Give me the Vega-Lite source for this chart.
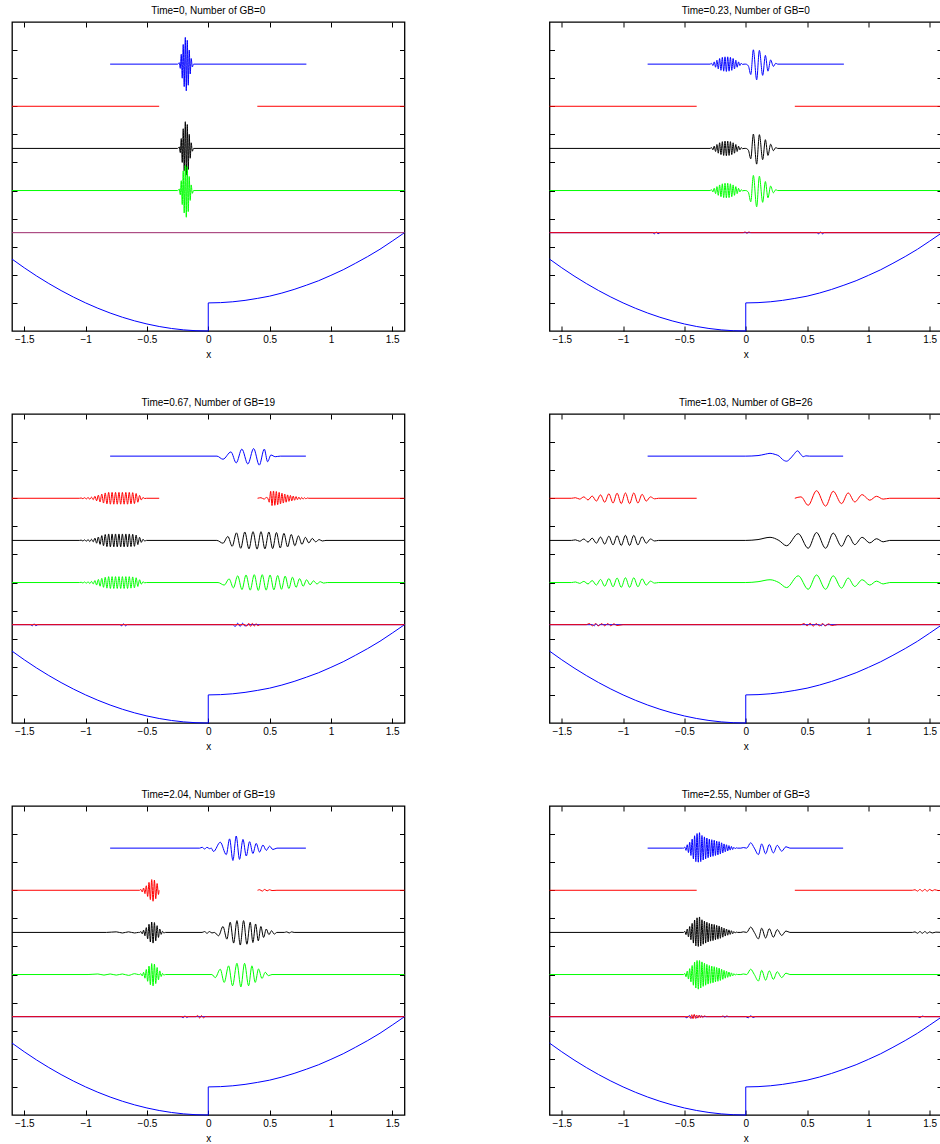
{
  "$schema": "https://vega.github.io/schema/vega-lite/v6.json",
  "padding": {"left": 9, "top": 4, "right": 0, "bottom": 0},
  "config": {
    "view": {"stroke": "#000000", "strokeWidth": 1.3},
    "axis": {"domain": false, "grid": false, "tickSize": -5, "tickColor": "#000000", "tickWidth": 1, "labelFont": "Liberation Sans", "labelFontSize": 10, "labelColor": "#000000", "labelPadding": 8, "titleFont": "Liberation Sans", "titleFontSize": 10, "titleFontWeight": "normal", "titleColor": "#000000", "titlePadding": 5},
    "title": {"font": "Liberation Sans", "fontSize": 10, "fontWeight": "normal", "color": "#000000", "offset": 6, "anchor": "middle"}
  },
  "datasets": {
    "potential": [{"x":-1.6,"y":2.56},{"x":-1.5,"y":2.25},{"x":-1.4,"y":1.96},{"x":-1.3,"y":1.69},{"x":-1.2,"y":1.44},{"x":-1.1,"y":1.21},{"x":-1.0,"y":1.0},{"x":-0.9,"y":0.81},{"x":-0.8,"y":0.64},{"x":-0.7,"y":0.49},{"x":-0.6,"y":0.36},{"x":-0.5,"y":0.25},{"x":-0.4,"y":0.16},{"x":-0.3,"y":0.09},{"x":-0.2,"y":0.04},{"x":-0.1,"y":0.01},{"x":0,"y":0},{"x":0,"y":1.0},{"x":0.1,"y":1.01},{"x":0.2,"y":1.04},{"x":0.3,"y":1.09},{"x":0.4,"y":1.16},{"x":0.5,"y":1.24},{"x":0.6,"y":1.35},{"x":0.7,"y":1.48},{"x":0.8,"y":1.63},{"x":0.9,"y":1.79},{"x":1.0,"y":1.98},{"x":1.1,"y":2.18},{"x":1.2,"y":2.41},{"x":1.3,"y":2.65},{"x":1.4,"y":2.91},{"x":1.5,"y":3.2},{"x":1.6,"y":3.5}],
    "p1": [
      {"s":"errMix","x":-1.6,"y":3.5},{"s":"errMix","x":1.6,"y":3.5},
      {"s":"blue","x":-0.8,"y":9.5},{"s":"blue","x":-0.25,"y":9.5},{"s":"blue","x":-0.236,"y":9.55},{"s":"blue","x":-0.228,"y":9.35},{"s":"blue","x":-0.22,"y":9.85},{"s":"blue","x":-0.212,"y":9.0},{"s":"blue","x":-0.204,"y":10.2},{"s":"blue","x":-0.196,"y":8.7},{"s":"blue","x":-0.187,"y":10.45},{"s":"blue","x":-0.179,"y":8.55},{"s":"blue","x":-0.171,"y":10.35},{"s":"blue","x":-0.163,"y":8.75},{"s":"blue","x":-0.155,"y":10.0},{"s":"blue","x":-0.147,"y":9.15},{"s":"blue","x":-0.139,"y":9.7},{"s":"blue","x":-0.13,"y":9.4},{"s":"blue","x":-0.12,"y":9.5},{"s":"blue","x":0.8,"y":9.5},
      {"s":"redL","x":-1.6,"y":8},{"s":"redL","x":-0.4,"y":8},{"s":"redR","x":0.4,"y":8},{"s":"redR","x":1.6,"y":8},
      {"s":"black","x":-1.6,"y":6.5},{"s":"black","x":-0.25,"y":6.5},{"s":"black","x":-0.236,"y":6.55},{"s":"black","x":-0.228,"y":6.35},{"s":"black","x":-0.22,"y":6.85},{"s":"black","x":-0.212,"y":6.0},{"s":"black","x":-0.204,"y":7.2},{"s":"black","x":-0.196,"y":5.7},{"s":"black","x":-0.187,"y":7.45},{"s":"black","x":-0.179,"y":5.55},{"s":"black","x":-0.171,"y":7.35},{"s":"black","x":-0.163,"y":5.75},{"s":"black","x":-0.155,"y":7.0},{"s":"black","x":-0.147,"y":6.15},{"s":"black","x":-0.139,"y":6.7},{"s":"black","x":-0.13,"y":6.4},{"s":"black","x":-0.12,"y":6.5},{"s":"black","x":1.6,"y":6.5},
      {"s":"green","x":-1.6,"y":5},{"s":"green","x":-0.25,"y":5},{"s":"green","x":-0.236,"y":5.05},{"s":"green","x":-0.228,"y":4.85},{"s":"green","x":-0.22,"y":5.35},{"s":"green","x":-0.212,"y":4.5},{"s":"green","x":-0.204,"y":5.7},{"s":"green","x":-0.196,"y":4.2},{"s":"green","x":-0.187,"y":5.9},{"s":"green","x":-0.179,"y":4.05},{"s":"green","x":-0.171,"y":5.85},{"s":"green","x":-0.163,"y":4.25},{"s":"green","x":-0.155,"y":5.5},{"s":"green","x":-0.147,"y":4.65},{"s":"green","x":-0.139,"y":5.2},{"s":"green","x":-0.13,"y":4.9},{"s":"green","x":-0.12,"y":5},{"s":"green","x":1.6,"y":5}
    ],
    "p2": [
      {"s":"errBlue","x":-1.6,"y":3.5},{"s":"errBlue","x":-0.76,"y":3.5},{"s":"errBlue","x":-0.745,"y":3.46},{"s":"errBlue","x":-0.73,"y":3.52},{"s":"errBlue","x":-0.715,"y":3.46},{"s":"errBlue","x":-0.7,"y":3.5},{"s":"errBlue","x":0.58,"y":3.5},{"s":"errBlue","x":0.595,"y":3.46},{"s":"errBlue","x":0.61,"y":3.52},{"s":"errBlue","x":0.625,"y":3.46},{"s":"errBlue","x":0.64,"y":3.5},{"s":"errBlue","x":1.6,"y":3.5},
      {"s":"errRed","x":-1.6,"y":3.5},{"s":"errRed","x":-0.02,"y":3.5},{"s":"errRed","x":-0.005,"y":3.53},{"s":"errRed","x":0.01,"y":3.47},{"s":"errRed","x":0.025,"y":3.53},{"s":"errRed","x":0.04,"y":3.5},{"s":"errRed","x":1.6,"y":3.5},
      {"s":"blue","x":-0.8,"y":9.5},{"s":"blue","x":-0.29,"y":9.5},{"s":"blue","x":-0.279,"y":9.53},{"s":"blue","x":-0.268,"y":9.45},{"s":"blue","x":-0.257,"y":9.58},{"s":"blue","x":-0.246,"y":9.39},{"s":"blue","x":-0.235,"y":9.64},{"s":"blue","x":-0.224,"y":9.33},{"s":"blue","x":-0.213,"y":9.7},{"s":"blue","x":-0.202,"y":9.28},{"s":"blue","x":-0.191,"y":9.74},{"s":"blue","x":-0.18,"y":9.25},{"s":"blue","x":-0.169,"y":9.76},{"s":"blue","x":-0.158,"y":9.24},{"s":"blue","x":-0.147,"y":9.76},{"s":"blue","x":-0.136,"y":9.25},{"s":"blue","x":-0.125,"y":9.74},{"s":"blue","x":-0.114,"y":9.28},{"s":"blue","x":-0.103,"y":9.7},{"s":"blue","x":-0.092,"y":9.33},{"s":"blue","x":-0.081,"y":9.64},{"s":"blue","x":-0.07,"y":9.39},{"s":"blue","x":-0.059,"y":9.58},{"s":"blue","x":-0.048,"y":9.45},{"s":"blue","x":-0.037,"y":9.53},{"s":"blue","x":-0.026,"y":9.49},{"s":"blue","x":-0.014,"y":9.5},{"s":"blue","x":0.0,"y":9.5},{"s":"blue","x":0.021,"y":9.44},{"s":"blue","x":0.041,"y":9.13},{"s":"blue","x":0.062,"y":10.01},{"s":"blue","x":0.089,"y":8.94},{"s":"blue","x":0.111,"y":9.99},{"s":"blue","x":0.138,"y":9.1},{"s":"blue","x":0.16,"y":9.81},{"s":"blue","x":0.181,"y":9.25},{"s":"blue","x":0.203,"y":9.65},{"s":"blue","x":0.225,"y":9.42},{"s":"blue","x":0.245,"y":9.53},{"s":"blue","x":0.26,"y":9.5},{"s":"blue","x":0.8,"y":9.5},
      {"s":"redL","x":-1.6,"y":8},{"s":"redL","x":-0.4,"y":8},{"s":"redR","x":0.4,"y":8},{"s":"redR","x":1.6,"y":8},
      {"s":"black","x":-1.6,"y":6.5},{"s":"black","x":-0.29,"y":6.5},{"s":"black","x":-0.279,"y":6.53},{"s":"black","x":-0.268,"y":6.45},{"s":"black","x":-0.257,"y":6.58},{"s":"black","x":-0.246,"y":6.39},{"s":"black","x":-0.235,"y":6.64},{"s":"black","x":-0.224,"y":6.33},{"s":"black","x":-0.213,"y":6.7},{"s":"black","x":-0.202,"y":6.28},{"s":"black","x":-0.191,"y":6.74},{"s":"black","x":-0.18,"y":6.25},{"s":"black","x":-0.169,"y":6.76},{"s":"black","x":-0.158,"y":6.24},{"s":"black","x":-0.147,"y":6.76},{"s":"black","x":-0.136,"y":6.25},{"s":"black","x":-0.125,"y":6.74},{"s":"black","x":-0.114,"y":6.28},{"s":"black","x":-0.103,"y":6.7},{"s":"black","x":-0.092,"y":6.33},{"s":"black","x":-0.081,"y":6.64},{"s":"black","x":-0.07,"y":6.39},{"s":"black","x":-0.059,"y":6.58},{"s":"black","x":-0.048,"y":6.45},{"s":"black","x":-0.037,"y":6.53},{"s":"black","x":-0.026,"y":6.49},{"s":"black","x":-0.014,"y":6.5},{"s":"black","x":0.0,"y":6.5},{"s":"black","x":0.021,"y":6.44},{"s":"black","x":0.041,"y":6.13},{"s":"black","x":0.062,"y":7.01},{"s":"black","x":0.089,"y":5.94},{"s":"black","x":0.111,"y":6.99},{"s":"black","x":0.138,"y":6.1},{"s":"black","x":0.16,"y":6.81},{"s":"black","x":0.181,"y":6.25},{"s":"black","x":0.203,"y":6.65},{"s":"black","x":0.225,"y":6.42},{"s":"black","x":0.245,"y":6.53},{"s":"black","x":0.26,"y":6.5},{"s":"black","x":1.6,"y":6.5},
      {"s":"green","x":-1.6,"y":5},{"s":"green","x":-0.29,"y":5},{"s":"green","x":-0.279,"y":5.03},{"s":"green","x":-0.268,"y":4.95},{"s":"green","x":-0.257,"y":5.08},{"s":"green","x":-0.246,"y":4.89},{"s":"green","x":-0.235,"y":5.14},{"s":"green","x":-0.224,"y":4.83},{"s":"green","x":-0.213,"y":5.2},{"s":"green","x":-0.202,"y":4.78},{"s":"green","x":-0.191,"y":5.24},{"s":"green","x":-0.18,"y":4.75},{"s":"green","x":-0.169,"y":5.26},{"s":"green","x":-0.158,"y":4.74},{"s":"green","x":-0.147,"y":5.26},{"s":"green","x":-0.136,"y":4.75},{"s":"green","x":-0.125,"y":5.24},{"s":"green","x":-0.114,"y":4.78},{"s":"green","x":-0.103,"y":5.2},{"s":"green","x":-0.092,"y":4.83},{"s":"green","x":-0.081,"y":5.14},{"s":"green","x":-0.07,"y":4.89},{"s":"green","x":-0.059,"y":5.08},{"s":"green","x":-0.048,"y":4.95},{"s":"green","x":-0.037,"y":5.03},{"s":"green","x":-0.026,"y":4.99},{"s":"green","x":-0.014,"y":5},{"s":"green","x":0.0,"y":5},{"s":"green","x":0.021,"y":4.94},{"s":"green","x":0.041,"y":4.6},{"s":"green","x":0.062,"y":5.54},{"s":"green","x":0.089,"y":4.42},{"s":"green","x":0.111,"y":5.51},{"s":"green","x":0.138,"y":4.58},{"s":"green","x":0.16,"y":5.32},{"s":"green","x":0.181,"y":4.74},{"s":"green","x":0.203,"y":5.16},{"s":"green","x":0.225,"y":4.92},{"s":"green","x":0.245,"y":5.03},{"s":"green","x":0.26,"y":5},{"s":"green","x":1.6,"y":5}
    ],
    "p3": [
      {"s":"errBlue","x":-1.6,"y":3.5},{"s":"errBlue","x":-1.45,"y":3.5},{"s":"errBlue","x":-1.435,"y":3.46},{"s":"errBlue","x":-1.42,"y":3.53},{"s":"errBlue","x":-1.405,"y":3.46},{"s":"errBlue","x":-1.39,"y":3.5},{"s":"errBlue","x":-0.72,"y":3.5},{"s":"errBlue","x":-0.705,"y":3.46},{"s":"errBlue","x":-0.69,"y":3.53},{"s":"errBlue","x":-0.675,"y":3.46},{"s":"errBlue","x":-0.66,"y":3.5},{"s":"errBlue","x":0.2,"y":3.5},{"s":"errBlue","x":0.22,"y":3.44},{"s":"errBlue","x":0.24,"y":3.55},{"s":"errBlue","x":0.26,"y":3.44},{"s":"errBlue","x":0.28,"y":3.55},{"s":"errBlue","x":0.3,"y":3.45},{"s":"errBlue","x":0.32,"y":3.5},{"s":"errBlue","x":1.6,"y":3.5},
      {"s":"errRed","x":-1.6,"y":3.5},{"s":"errRed","x":0.3,"y":3.5},{"s":"errRed","x":0.315,"y":3.45},{"s":"errRed","x":0.33,"y":3.55},{"s":"errRed","x":0.345,"y":3.44},{"s":"errRed","x":0.36,"y":3.55},{"s":"errRed","x":0.375,"y":3.45},{"s":"errRed","x":0.39,"y":3.54},{"s":"errRed","x":0.405,"y":3.46},{"s":"errRed","x":0.42,"y":3.5},{"s":"errRed","x":1.6,"y":3.5},
      {"s":"blue","x":-0.8,"y":9.5},{"s":"blue","x":0.071,"y":9.5},{"s":"blue","x":0.12,"y":9.39},{"s":"blue","x":0.185,"y":9.65},{"s":"blue","x":0.228,"y":9.26},{"s":"blue","x":0.274,"y":9.75},{"s":"blue","x":0.323,"y":9.22},{"s":"blue","x":0.37,"y":9.77},{"s":"blue","x":0.416,"y":9.18},{"s":"blue","x":0.457,"y":9.75},{"s":"blue","x":0.484,"y":9.3},{"s":"blue","x":0.511,"y":9.54},{"s":"blue","x":0.546,"y":9.48},{"s":"blue","x":0.587,"y":9.5},{"s":"blue","x":0.796,"y":9.5},
      {"s":"redL","x":-1.6,"y":8},{"s":"redL","x":-1.05,"y":8},{"s":"redL","x":-1.036,"y":8.01},{"s":"redL","x":-1.022,"y":7.985},{"s":"redL","x":-1.008,"y":8.02},{"s":"redL","x":-0.994,"y":7.975},{"s":"redL","x":-0.98,"y":8.03},{"s":"redL","x":-0.966,"y":7.965},{"s":"redL","x":-0.952,"y":8.04},{"s":"redL","x":-0.938,"y":7.95},{"s":"redL","x":-0.924,"y":8.07},{"s":"redL","x":-0.91,"y":7.91},{"s":"redL","x":-0.896,"y":8.11},{"s":"redL","x":-0.882,"y":7.87},{"s":"redL","x":-0.868,"y":8.15},{"s":"redL","x":-0.854,"y":7.83},{"s":"redL","x":-0.84,"y":8.19},{"s":"redL","x":-0.826,"y":7.8},{"s":"redL","x":-0.812,"y":8.21},{"s":"redL","x":-0.798,"y":7.79},{"s":"redL","x":-0.784,"y":8.21},{"s":"redL","x":-0.77,"y":7.79},{"s":"redL","x":-0.756,"y":8.21},{"s":"redL","x":-0.742,"y":7.79},{"s":"redL","x":-0.728,"y":8.21},{"s":"redL","x":-0.714,"y":7.79},{"s":"redL","x":-0.7,"y":8.21},{"s":"redL","x":-0.686,"y":7.79},{"s":"redL","x":-0.672,"y":8.21},{"s":"redL","x":-0.658,"y":7.79},{"s":"redL","x":-0.644,"y":8.21},{"s":"redL","x":-0.63,"y":7.8},{"s":"redL","x":-0.616,"y":8.2},{"s":"redL","x":-0.602,"y":7.81},{"s":"redL","x":-0.588,"y":8.17},{"s":"redL","x":-0.574,"y":7.86},{"s":"redL","x":-0.56,"y":8.1},{"s":"redL","x":-0.546,"y":7.94},{"s":"redL","x":-0.532,"y":8.03},{"s":"redL","x":-0.518,"y":7.99},{"s":"redL","x":-0.504,"y":8},{"s":"redL","x":-0.4,"y":8},
      {"s":"redR","x":0.402,"y":8},{"s":"redR","x":0.43,"y":8.02},{"s":"redR","x":0.455,"y":7.97},{"s":"redR","x":0.475,"y":8.03},{"s":"redR","x":0.486,"y":8},{"s":"redR","x":0.497,"y":7.86},{"s":"redR","x":0.509,"y":8.25},{"s":"redR","x":0.52,"y":7.74},{"s":"redR","x":0.532,"y":8.26},{"s":"redR","x":0.543,"y":7.75},{"s":"redR","x":0.555,"y":8.24},{"s":"redR","x":0.566,"y":7.77},{"s":"redR","x":0.578,"y":8.21},{"s":"redR","x":0.589,"y":7.8},{"s":"redR","x":0.601,"y":8.18},{"s":"redR","x":0.612,"y":7.83},{"s":"redR","x":0.624,"y":8.15},{"s":"redR","x":0.635,"y":7.86},{"s":"redR","x":0.647,"y":8.12},{"s":"redR","x":0.658,"y":7.89},{"s":"redR","x":0.67,"y":8.1},{"s":"redR","x":0.681,"y":7.91},{"s":"redR","x":0.693,"y":8.08},{"s":"redR","x":0.704,"y":7.93},{"s":"redR","x":0.716,"y":8.06},{"s":"redR","x":0.727,"y":7.95},{"s":"redR","x":0.739,"y":8.04},{"s":"redR","x":0.75,"y":7.96},{"s":"redR","x":0.762,"y":8.03},{"s":"redR","x":0.773,"y":7.97},{"s":"redR","x":0.785,"y":8.02},{"s":"redR","x":0.796,"y":7.98},{"s":"redR","x":0.808,"y":8.01},{"s":"redR","x":0.82,"y":8},{"s":"redR","x":1.6,"y":8},
      {"s":"black","x":-1.6,"y":6.5},{"s":"black","x":-1.05,"y":6.5},{"s":"black","x":-1.036,"y":6.51},{"s":"black","x":-1.022,"y":6.48},{"s":"black","x":-1.008,"y":6.52},{"s":"black","x":-0.994,"y":6.47},{"s":"black","x":-0.98,"y":6.53},{"s":"black","x":-0.966,"y":6.46},{"s":"black","x":-0.952,"y":6.54},{"s":"black","x":-0.938,"y":6.45},{"s":"black","x":-0.924,"y":6.58},{"s":"black","x":-0.91,"y":6.4},{"s":"black","x":-0.896,"y":6.62},{"s":"black","x":-0.882,"y":6.36},{"s":"black","x":-0.868,"y":6.67},{"s":"black","x":-0.854,"y":6.31},{"s":"black","x":-0.84,"y":6.71},{"s":"black","x":-0.826,"y":6.28},{"s":"black","x":-0.812,"y":6.73},{"s":"black","x":-0.798,"y":6.27},{"s":"black","x":-0.784,"y":6.73},{"s":"black","x":-0.77,"y":6.27},{"s":"black","x":-0.756,"y":6.73},{"s":"black","x":-0.742,"y":6.27},{"s":"black","x":-0.728,"y":6.73},{"s":"black","x":-0.714,"y":6.27},{"s":"black","x":-0.7,"y":6.73},{"s":"black","x":-0.686,"y":6.27},{"s":"black","x":-0.672,"y":6.73},{"s":"black","x":-0.658,"y":6.27},{"s":"black","x":-0.644,"y":6.73},{"s":"black","x":-0.63,"y":6.28},{"s":"black","x":-0.616,"y":6.72},{"s":"black","x":-0.602,"y":6.29},{"s":"black","x":-0.588,"y":6.69},{"s":"black","x":-0.574,"y":6.35},{"s":"black","x":-0.56,"y":6.61},{"s":"black","x":-0.546,"y":6.43},{"s":"black","x":-0.532,"y":6.54},{"s":"black","x":-0.518,"y":6.48},{"s":"black","x":-0.504,"y":6.5},{"s":"black","x":0.07,"y":6.5},{"s":"black","x":0.12,"y":6.4},{"s":"black","x":0.16,"y":6.64},{"s":"black","x":0.195,"y":6.29},{"s":"black","x":0.23,"y":6.77},{"s":"black","x":0.265,"y":6.22},{"s":"black","x":0.298,"y":6.8},{"s":"black","x":0.332,"y":6.2},{"s":"black","x":0.365,"y":6.81},{"s":"black","x":0.398,"y":6.19},{"s":"black","x":0.43,"y":6.81},{"s":"black","x":0.462,"y":6.2},{"s":"black","x":0.494,"y":6.8},{"s":"black","x":0.525,"y":6.21},{"s":"black","x":0.556,"y":6.78},{"s":"black","x":0.587,"y":6.23},{"s":"black","x":0.617,"y":6.75},{"s":"black","x":0.647,"y":6.27},{"s":"black","x":0.677,"y":6.71},{"s":"black","x":0.706,"y":6.31},{"s":"black","x":0.735,"y":6.66},{"s":"black","x":0.764,"y":6.36},{"s":"black","x":0.792,"y":6.61},{"s":"black","x":0.82,"y":6.41},{"s":"black","x":0.848,"y":6.57},{"s":"black","x":0.876,"y":6.45},{"s":"black","x":0.904,"y":6.53},{"s":"black","x":0.93,"y":6.48},{"s":"black","x":0.96,"y":6.5},{"s":"black","x":1.6,"y":6.5},
      {"s":"green","x":-1.6,"y":5},{"s":"green","x":-1.05,"y":5},{"s":"green","x":-1.036,"y":5.01},{"s":"green","x":-1.022,"y":4.985},{"s":"green","x":-1.008,"y":5.02},{"s":"green","x":-0.994,"y":4.975},{"s":"green","x":-0.98,"y":5.03},{"s":"green","x":-0.966,"y":4.965},{"s":"green","x":-0.952,"y":5.04},{"s":"green","x":-0.938,"y":4.95},{"s":"green","x":-0.924,"y":5.07},{"s":"green","x":-0.91,"y":4.91},{"s":"green","x":-0.896,"y":5.11},{"s":"green","x":-0.882,"y":4.87},{"s":"green","x":-0.868,"y":5.15},{"s":"green","x":-0.854,"y":4.83},{"s":"green","x":-0.84,"y":5.19},{"s":"green","x":-0.826,"y":4.8},{"s":"green","x":-0.812,"y":5.21},{"s":"green","x":-0.798,"y":4.79},{"s":"green","x":-0.784,"y":5.21},{"s":"green","x":-0.77,"y":4.79},{"s":"green","x":-0.756,"y":5.21},{"s":"green","x":-0.742,"y":4.79},{"s":"green","x":-0.728,"y":5.21},{"s":"green","x":-0.714,"y":4.79},{"s":"green","x":-0.7,"y":5.21},{"s":"green","x":-0.686,"y":4.79},{"s":"green","x":-0.672,"y":5.21},{"s":"green","x":-0.658,"y":4.79},{"s":"green","x":-0.644,"y":5.21},{"s":"green","x":-0.63,"y":4.8},{"s":"green","x":-0.616,"y":5.2},{"s":"green","x":-0.602,"y":4.81},{"s":"green","x":-0.588,"y":5.17},{"s":"green","x":-0.574,"y":4.86},{"s":"green","x":-0.56,"y":5.1},{"s":"green","x":-0.546,"y":4.94},{"s":"green","x":-0.532,"y":5.03},{"s":"green","x":-0.518,"y":4.99},{"s":"green","x":-0.504,"y":5},{"s":"green","x":0.08,"y":5},{"s":"green","x":0.13,"y":4.91},{"s":"green","x":0.17,"y":5.13},{"s":"green","x":0.205,"y":4.81},{"s":"green","x":0.24,"y":5.24},{"s":"green","x":0.275,"y":4.75},{"s":"green","x":0.308,"y":5.27},{"s":"green","x":0.342,"y":4.73},{"s":"green","x":0.375,"y":5.28},{"s":"green","x":0.408,"y":4.72},{"s":"green","x":0.44,"y":5.28},{"s":"green","x":0.472,"y":4.73},{"s":"green","x":0.504,"y":5.27},{"s":"green","x":0.535,"y":4.74},{"s":"green","x":0.566,"y":5.25},{"s":"green","x":0.597,"y":4.76},{"s":"green","x":0.627,"y":5.23},{"s":"green","x":0.657,"y":4.79},{"s":"green","x":0.687,"y":5.19},{"s":"green","x":0.716,"y":4.83},{"s":"green","x":0.745,"y":5.14},{"s":"green","x":0.774,"y":4.87},{"s":"green","x":0.802,"y":5.1},{"s":"green","x":0.83,"y":4.92},{"s":"green","x":0.858,"y":5.06},{"s":"green","x":0.886,"y":4.95},{"s":"green","x":0.914,"y":5.03},{"s":"green","x":0.94,"y":4.98},{"s":"green","x":0.97,"y":5},{"s":"green","x":1.6,"y":5}
    ],
    "p4": [
      {"s":"errBlue","x":-1.6,"y":3.5},{"s":"errBlue","x":-1.25,"y":3.5},{"s":"errBlue","x":-1.235,"y":3.46},{"s":"errBlue","x":-1.22,"y":3.53},{"s":"errBlue","x":-1.205,"y":3.46},{"s":"errBlue","x":-1.19,"y":3.5},{"s":"errBlue","x":0.6,"y":3.5},{"s":"errBlue","x":0.615,"y":3.46},{"s":"errBlue","x":0.63,"y":3.53},{"s":"errBlue","x":0.645,"y":3.46},{"s":"errBlue","x":0.66,"y":3.5},{"s":"errBlue","x":1.6,"y":3.5},
      {"s":"errRed","x":-1.6,"y":3.5},{"s":"errRed","x":-1.3,"y":3.5},{"s":"errRed","x":-1.275,"y":3.54},{"s":"errRed","x":-1.25,"y":3.46},{"s":"errRed","x":-1.225,"y":3.54},{"s":"errRed","x":-1.2,"y":3.46},{"s":"errRed","x":-1.175,"y":3.54},{"s":"errRed","x":-1.15,"y":3.46},{"s":"errRed","x":-1.125,"y":3.54},{"s":"errRed","x":-1.1,"y":3.46},{"s":"errRed","x":-1.075,"y":3.53},{"s":"errRed","x":-1.05,"y":3.47},{"s":"errRed","x":-1.0,"y":3.5},{"s":"errRed","x":0.45,"y":3.5},{"s":"errRed","x":0.475,"y":3.54},{"s":"errRed","x":0.5,"y":3.46},{"s":"errRed","x":0.525,"y":3.55},{"s":"errRed","x":0.55,"y":3.45},{"s":"errRed","x":0.575,"y":3.54},{"s":"errRed","x":0.6,"y":3.46},{"s":"errRed","x":0.625,"y":3.54},{"s":"errRed","x":0.65,"y":3.46},{"s":"errRed","x":0.675,"y":3.53},{"s":"errRed","x":0.7,"y":3.47},{"s":"errRed","x":0.75,"y":3.5},{"s":"errRed","x":1.6,"y":3.5},
      {"s":"blue","x":-0.8,"y":9.5},{"s":"blue","x":0,"y":9.5},{"s":"blue","x":0.1,"y":9.52},{"s":"blue","x":0.16,"y":9.57},{"s":"blue","x":0.198,"y":9.6},{"s":"blue","x":0.24,"y":9.56},{"s":"blue","x":0.273,"y":9.5},{"s":"blue","x":0.3,"y":9.38},{"s":"blue","x":0.333,"y":9.32},{"s":"blue","x":0.36,"y":9.4},{"s":"blue","x":0.39,"y":9.55},{"s":"blue","x":0.423,"y":9.69},{"s":"blue","x":0.445,"y":9.58},{"s":"blue","x":0.469,"y":9.48},{"s":"blue","x":0.49,"y":9.51},{"s":"blue","x":0.52,"y":9.5},{"s":"blue","x":0.794,"y":9.5},
      {"s":"redL","x":-1.6,"y":8},{"s":"redL","x":-1.421,"y":8},{"s":"redL","x":-1.388,"y":8.02},{"s":"redL","x":-1.354,"y":7.97},{"s":"redL","x":-1.32,"y":8.05},{"s":"redL","x":-1.286,"y":7.94},{"s":"redL","x":-1.252,"y":8.08},{"s":"redL","x":-1.218,"y":7.9},{"s":"redL","x":-1.184,"y":8.12},{"s":"redL","x":-1.15,"y":7.86},{"s":"redL","x":-1.116,"y":8.16},{"s":"redL","x":-1.082,"y":7.83},{"s":"redL","x":-1.049,"y":8.18},{"s":"redL","x":-1.015,"y":7.81},{"s":"redL","x":-0.981,"y":8.19},{"s":"redL","x":-0.947,"y":7.81},{"s":"redL","x":-0.913,"y":8.19},{"s":"redL","x":-0.879,"y":7.83},{"s":"redL","x":-0.845,"y":8.14},{"s":"redL","x":-0.811,"y":7.9},{"s":"redL","x":-0.777,"y":8.05},{"s":"redL","x":-0.743,"y":7.98},{"s":"redL","x":-0.711,"y":8},{"s":"redL","x":-0.4,"y":8},
      {"s":"redR","x":0.4,"y":8},{"s":"redR","x":0.45,"y":8.05},{"s":"redR","x":0.509,"y":7.75},{"s":"redR","x":0.577,"y":8.27},{"s":"redR","x":0.651,"y":7.72},{"s":"redR","x":0.713,"y":8.25},{"s":"redR","x":0.781,"y":7.81},{"s":"redR","x":0.835,"y":8.19},{"s":"redR","x":0.889,"y":7.87},{"s":"redR","x":0.949,"y":8.13},{"s":"redR","x":1.011,"y":7.93},{"s":"redR","x":1.066,"y":8.07},{"s":"redR","x":1.12,"y":7.97},{"s":"redR","x":1.174,"y":8},{"s":"redR","x":1.6,"y":8},
      {"s":"black","x":-1.6,"y":6.5},{"s":"black","x":-1.421,"y":6.5},{"s":"black","x":-1.388,"y":6.52},{"s":"black","x":-1.354,"y":6.47},{"s":"black","x":-1.32,"y":6.55},{"s":"black","x":-1.286,"y":6.44},{"s":"black","x":-1.252,"y":6.58},{"s":"black","x":-1.218,"y":6.4},{"s":"black","x":-1.184,"y":6.62},{"s":"black","x":-1.15,"y":6.37},{"s":"black","x":-1.116,"y":6.65},{"s":"black","x":-1.082,"y":6.34},{"s":"black","x":-1.049,"y":6.67},{"s":"black","x":-1.015,"y":6.32},{"s":"black","x":-0.981,"y":6.68},{"s":"black","x":-0.947,"y":6.32},{"s":"black","x":-0.913,"y":6.68},{"s":"black","x":-0.879,"y":6.34},{"s":"black","x":-0.845,"y":6.63},{"s":"black","x":-0.811,"y":6.4},{"s":"black","x":-0.777,"y":6.55},{"s":"black","x":-0.743,"y":6.48},{"s":"black","x":-0.711,"y":6.5},{"s":"black","x":0,"y":6.5},{"s":"black","x":0.1,"y":6.53},{"s":"black","x":0.198,"y":6.61},{"s":"black","x":0.27,"y":6.5},{"s":"black","x":0.333,"y":6.31},{"s":"black","x":0.428,"y":6.74},{"s":"black","x":0.509,"y":6.22},{"s":"black","x":0.577,"y":6.78},{"s":"black","x":0.651,"y":6.22},{"s":"black","x":0.713,"y":6.76},{"s":"black","x":0.781,"y":6.29},{"s":"black","x":0.835,"y":6.68},{"s":"black","x":0.889,"y":6.35},{"s":"black","x":0.949,"y":6.61},{"s":"black","x":1.011,"y":6.41},{"s":"black","x":1.066,"y":6.56},{"s":"black","x":1.12,"y":6.45},{"s":"black","x":1.174,"y":6.5},{"s":"black","x":1.6,"y":6.5},
      {"s":"green","x":-1.6,"y":5},{"s":"green","x":-1.421,"y":5},{"s":"green","x":-1.388,"y":5.02},{"s":"green","x":-1.354,"y":4.97},{"s":"green","x":-1.32,"y":5.04},{"s":"green","x":-1.286,"y":4.95},{"s":"green","x":-1.252,"y":5.07},{"s":"green","x":-1.218,"y":4.91},{"s":"green","x":-1.184,"y":5.11},{"s":"green","x":-1.15,"y":4.87},{"s":"green","x":-1.116,"y":5.14},{"s":"green","x":-1.082,"y":4.85},{"s":"green","x":-1.049,"y":5.16},{"s":"green","x":-1.015,"y":4.83},{"s":"green","x":-0.981,"y":5.17},{"s":"green","x":-0.947,"y":4.83},{"s":"green","x":-0.913,"y":5.17},{"s":"green","x":-0.879,"y":4.85},{"s":"green","x":-0.845,"y":5.13},{"s":"green","x":-0.811,"y":4.91},{"s":"green","x":-0.777,"y":5.05},{"s":"green","x":-0.743,"y":4.98},{"s":"green","x":-0.711,"y":5},{"s":"green","x":0,"y":5},{"s":"green","x":0.1,"y":5.03},{"s":"green","x":0.198,"y":5.1},{"s":"green","x":0.27,"y":5},{"s":"green","x":0.333,"y":4.82},{"s":"green","x":0.428,"y":5.24},{"s":"green","x":0.509,"y":4.76},{"s":"green","x":0.577,"y":5.27},{"s":"green","x":0.651,"y":4.76},{"s":"green","x":0.713,"y":5.24},{"s":"green","x":0.781,"y":4.8},{"s":"green","x":0.835,"y":5.16},{"s":"green","x":0.889,"y":4.86},{"s":"green","x":0.949,"y":5.1},{"s":"green","x":1.011,"y":4.91},{"s":"green","x":1.066,"y":5.05},{"s":"green","x":1.12,"y":4.95},{"s":"green","x":1.174,"y":5},{"s":"green","x":1.6,"y":5}
    ],
    "p5": [
      {"s":"errBlue","x":-1.6,"y":3.5},{"s":"errBlue","x":-0.22,"y":3.5},{"s":"errBlue","x":-0.205,"y":3.46},{"s":"errBlue","x":-0.19,"y":3.53},{"s":"errBlue","x":-0.175,"y":3.47},{"s":"errBlue","x":-0.16,"y":3.5},{"s":"errBlue","x":1.6,"y":3.5},
      {"s":"errRed","x":-1.6,"y":3.5},{"s":"errRed","x":-0.1,"y":3.5},{"s":"errRed","x":-0.085,"y":3.54},{"s":"errRed","x":-0.07,"y":3.45},{"s":"errRed","x":-0.055,"y":3.54},{"s":"errRed","x":-0.04,"y":3.46},{"s":"errRed","x":-0.025,"y":3.5},{"s":"errRed","x":1.6,"y":3.5},
      {"s":"blue","x":-0.8,"y":9.5},{"s":"blue","x":-0.07,"y":9.5},{"s":"blue","x":-0.05,"y":9.53},{"s":"blue","x":-0.03,"y":9.47},{"s":"blue","x":-0.01,"y":9.53},{"s":"blue","x":0.01,"y":9.48},{"s":"blue","x":0.025,"y":9.5},{"s":"blue","x":0.043,"y":9.38},{"s":"blue","x":0.098,"y":9.71},{"s":"blue","x":0.147,"y":9.27},{"s":"blue","x":0.174,"y":9.83},{"s":"blue","x":0.201,"y":9.06},{"s":"blue","x":0.228,"y":9.93},{"s":"blue","x":0.255,"y":9.1},{"s":"blue","x":0.283,"y":9.81},{"s":"blue","x":0.31,"y":9.22},{"s":"blue","x":0.337,"y":9.73},{"s":"blue","x":0.364,"y":9.31},{"s":"blue","x":0.391,"y":9.67},{"s":"blue","x":0.418,"y":9.36},{"s":"blue","x":0.446,"y":9.61},{"s":"blue","x":0.473,"y":9.42},{"s":"blue","x":0.5,"y":9.57},{"s":"blue","x":0.527,"y":9.45},{"s":"blue","x":0.56,"y":9.5},{"s":"blue","x":0.796,"y":9.5},
      {"s":"redL","x":-1.6,"y":8},{"s":"redL","x":-0.56,"y":8},{"s":"redL","x":-0.549,"y":8.03},{"s":"redL","x":-0.538,"y":7.94},{"s":"redL","x":-0.527,"y":8.08},{"s":"redL","x":-0.516,"y":7.88},{"s":"redL","x":-0.505,"y":8.16},{"s":"redL","x":-0.494,"y":7.78},{"s":"redL","x":-0.483,"y":8.28},{"s":"redL","x":-0.472,"y":7.67},{"s":"redL","x":-0.461,"y":8.38},{"s":"redL","x":-0.45,"y":7.61},{"s":"redL","x":-0.439,"y":8.36},{"s":"redL","x":-0.428,"y":7.7},{"s":"redL","x":-0.417,"y":8.24},{"s":"redL","x":-0.406,"y":7.85},{"s":"redL","x":-0.401,"y":8},
      {"s":"redR","x":0.402,"y":8},{"s":"redR","x":0.42,"y":8.02},{"s":"redR","x":0.44,"y":7.97},{"s":"redR","x":0.46,"y":8.03},{"s":"redR","x":0.48,"y":7.98},{"s":"redR","x":0.5,"y":8.02},{"s":"redR","x":0.52,"y":7.99},{"s":"redR","x":0.56,"y":8},{"s":"redR","x":1.6,"y":8},
      {"s":"black","x":-1.6,"y":6.5},{"s":"black","x":-0.83,"y":6.5},{"s":"black","x":-0.75,"y":6.52},{"s":"black","x":-0.7,"y":6.48},{"s":"black","x":-0.65,"y":6.52},{"s":"black","x":-0.6,"y":6.48},{"s":"black","x":-0.57,"y":6.5},{"s":"black","x":-0.56,"y":6.5},{"s":"black","x":-0.549,"y":6.53},{"s":"black","x":-0.538,"y":6.45},{"s":"black","x":-0.527,"y":6.58},{"s":"black","x":-0.516,"y":6.38},{"s":"black","x":-0.505,"y":6.67},{"s":"black","x":-0.494,"y":6.27},{"s":"black","x":-0.483,"y":6.79},{"s":"black","x":-0.472,"y":6.16},{"s":"black","x":-0.461,"y":6.87},{"s":"black","x":-0.45,"y":6.12},{"s":"black","x":-0.439,"y":6.85},{"s":"black","x":-0.428,"y":6.2},{"s":"black","x":-0.417,"y":6.74},{"s":"black","x":-0.406,"y":6.32},{"s":"black","x":-0.395,"y":6.62},{"s":"black","x":-0.384,"y":6.43},{"s":"black","x":-0.373,"y":6.54},{"s":"black","x":-0.362,"y":6.48},{"s":"black","x":-0.35,"y":6.5},{"s":"black","x":-0.05,"y":6.5},{"s":"black","x":-0.03,"y":6.53},{"s":"black","x":-0.01,"y":6.47},{"s":"black","x":0.01,"y":6.53},{"s":"black","x":0.03,"y":6.48},{"s":"black","x":0.05,"y":6.5},{"s":"black","x":0.084,"y":6.38},{"s":"black","x":0.12,"y":6.71},{"s":"black","x":0.152,"y":6.26},{"s":"black","x":0.179,"y":6.86},{"s":"black","x":0.207,"y":6.12},{"s":"black","x":0.234,"y":6.92},{"s":"black","x":0.261,"y":6.05},{"s":"black","x":0.288,"y":6.92},{"s":"black","x":0.315,"y":6.08},{"s":"black","x":0.342,"y":6.86},{"s":"black","x":0.364,"y":6.14},{"s":"black","x":0.386,"y":6.8},{"s":"black","x":0.408,"y":6.2},{"s":"black","x":0.429,"y":6.71},{"s":"black","x":0.451,"y":6.32},{"s":"black","x":0.473,"y":6.62},{"s":"black","x":0.495,"y":6.42},{"s":"black","x":0.516,"y":6.56},{"s":"black","x":0.538,"y":6.44},{"s":"black","x":0.56,"y":6.5},{"s":"black","x":0.62,"y":6.5},{"s":"black","x":0.64,"y":6.52},{"s":"black","x":0.66,"y":6.48},{"s":"black","x":0.68,"y":6.52},{"s":"black","x":0.7,"y":6.5},{"s":"black","x":1.6,"y":6.5},
      {"s":"green","x":-1.6,"y":5},{"s":"green","x":-0.98,"y":5},{"s":"green","x":-0.9,"y":5.02},{"s":"green","x":-0.85,"y":4.98},{"s":"green","x":-0.8,"y":5.02},{"s":"green","x":-0.75,"y":4.98},{"s":"green","x":-0.7,"y":5.02},{"s":"green","x":-0.65,"y":4.97},{"s":"green","x":-0.6,"y":5.03},{"s":"green","x":-0.57,"y":5},{"s":"green","x":-0.56,"y":5},{"s":"green","x":-0.549,"y":5.03},{"s":"green","x":-0.538,"y":4.95},{"s":"green","x":-0.527,"y":5.08},{"s":"green","x":-0.516,"y":4.87},{"s":"green","x":-0.505,"y":5.18},{"s":"green","x":-0.494,"y":4.76},{"s":"green","x":-0.483,"y":5.3},{"s":"green","x":-0.472,"y":4.64},{"s":"green","x":-0.461,"y":5.39},{"s":"green","x":-0.45,"y":4.6},{"s":"green","x":-0.439,"y":5.37},{"s":"green","x":-0.428,"y":4.68},{"s":"green","x":-0.417,"y":5.25},{"s":"green","x":-0.406,"y":4.81},{"s":"green","x":-0.395,"y":5.13},{"s":"green","x":-0.384,"y":4.93},{"s":"green","x":-0.373,"y":5.04},{"s":"green","x":-0.362,"y":4.98},{"s":"green","x":-0.35,"y":5},{"s":"green","x":0.03,"y":5},{"s":"green","x":0.057,"y":4.89},{"s":"green","x":0.098,"y":5.19},{"s":"green","x":0.13,"y":4.72},{"s":"green","x":0.166,"y":5.31},{"s":"green","x":0.198,"y":4.6},{"s":"green","x":0.234,"y":5.4},{"s":"green","x":0.266,"y":4.56},{"s":"green","x":0.296,"y":5.4},{"s":"green","x":0.329,"y":4.6},{"s":"green","x":0.356,"y":5.31},{"s":"green","x":0.383,"y":4.72},{"s":"green","x":0.41,"y":5.2},{"s":"green","x":0.438,"y":4.86},{"s":"green","x":0.465,"y":5.08},{"s":"green","x":0.49,"y":4.96},{"s":"green","x":0.52,"y":5},{"s":"green","x":1.6,"y":5}
    ],
    "p6": [
      {"s":"errBlue","x":-1.6,"y":3.5},{"s":"errBlue","x":-0.5,"y":3.5},{"s":"errBlue","x":-0.48,"y":3.46},{"s":"errBlue","x":-0.46,"y":3.54},{"s":"errBlue","x":-0.44,"y":3.45},{"s":"errBlue","x":-0.42,"y":3.55},{"s":"errBlue","x":-0.4,"y":3.46},{"s":"errBlue","x":-0.38,"y":3.53},{"s":"errBlue","x":-0.36,"y":3.5},{"s":"errBlue","x":0.0,"y":3.5},{"s":"errBlue","x":0.02,"y":3.46},{"s":"errBlue","x":0.04,"y":3.53},{"s":"errBlue","x":0.06,"y":3.47},{"s":"errBlue","x":0.08,"y":3.5},{"s":"errBlue","x":1.4,"y":3.5},{"s":"errBlue","x":1.42,"y":3.47},{"s":"errBlue","x":1.44,"y":3.52},{"s":"errBlue","x":1.46,"y":3.5},{"s":"errBlue","x":1.6,"y":3.5},
      {"s":"errRed","x":-1.6,"y":3.5},{"s":"errRed","x":-0.46,"y":3.5},{"s":"errRed","x":-0.45,"y":3.44},{"s":"errRed","x":-0.44,"y":3.57},{"s":"errRed","x":-0.43,"y":3.43},{"s":"errRed","x":-0.42,"y":3.58},{"s":"errRed","x":-0.41,"y":3.44},{"s":"errRed","x":-0.4,"y":3.56},{"s":"errRed","x":-0.39,"y":3.45},{"s":"errRed","x":-0.38,"y":3.55},{"s":"errRed","x":-0.37,"y":3.46},{"s":"errRed","x":-0.36,"y":3.54},{"s":"errRed","x":-0.35,"y":3.47},{"s":"errRed","x":-0.34,"y":3.53},{"s":"errRed","x":-0.32,"y":3.5},{"s":"errRed","x":-0.2,"y":3.5},{"s":"errRed","x":-0.185,"y":3.53},{"s":"errRed","x":-0.17,"y":3.47},{"s":"errRed","x":-0.155,"y":3.53},{"s":"errRed","x":-0.14,"y":3.5},{"s":"errRed","x":1.6,"y":3.5},
      {"s":"blue","x":-0.8,"y":9.5},{"s":"blue","x":-0.517,"y":9.5},{"s":"blue","x":-0.507,"y":9.5},{"s":"blue","x":-0.497,"y":9.54},{"s":"blue","x":-0.487,"y":9.42},{"s":"blue","x":-0.477,"y":9.62},{"s":"blue","x":-0.467,"y":9.34},{"s":"blue","x":-0.457,"y":9.71},{"s":"blue","x":-0.447,"y":9.24},{"s":"blue","x":-0.437,"y":9.82},{"s":"blue","x":-0.427,"y":9.12},{"s":"blue","x":-0.417,"y":9.94},{"s":"blue","x":-0.407,"y":9.02},{"s":"blue","x":-0.397,"y":10.02},{"s":"blue","x":-0.387,"y":9.0},{"s":"blue","x":-0.377,"y":10.05},{"s":"blue","x":-0.367,"y":9.02},{"s":"blue","x":-0.357,"y":9.95},{"s":"blue","x":-0.347,"y":9.08},{"s":"blue","x":-0.337,"y":9.9},{"s":"blue","x":-0.327,"y":9.12},{"s":"blue","x":-0.317,"y":9.86},{"s":"blue","x":-0.307,"y":9.16},{"s":"blue","x":-0.297,"y":9.82},{"s":"blue","x":-0.287,"y":9.19},{"s":"blue","x":-0.277,"y":9.8},{"s":"blue","x":-0.267,"y":9.21},{"s":"blue","x":-0.257,"y":9.78},{"s":"blue","x":-0.247,"y":9.24},{"s":"blue","x":-0.237,"y":9.75},{"s":"blue","x":-0.227,"y":9.26},{"s":"blue","x":-0.217,"y":9.73},{"s":"blue","x":-0.207,"y":9.29},{"s":"blue","x":-0.197,"y":9.69},{"s":"blue","x":-0.187,"y":9.33},{"s":"blue","x":-0.177,"y":9.65},{"s":"blue","x":-0.167,"y":9.37},{"s":"blue","x":-0.157,"y":9.62},{"s":"blue","x":-0.147,"y":9.4},{"s":"blue","x":-0.137,"y":9.59},{"s":"blue","x":-0.127,"y":9.43},{"s":"blue","x":-0.117,"y":9.56},{"s":"blue","x":-0.107,"y":9.45},{"s":"blue","x":-0.097,"y":9.53},{"s":"blue","x":-0.087,"y":9.48},{"s":"blue","x":-0.077,"y":9.51},{"s":"blue","x":-0.067,"y":9.5},{"s":"blue","x":-0.04,"y":9.5},{"s":"blue","x":-0.02,"y":9.52},{"s":"blue","x":0.008,"y":9.5},{"s":"blue","x":0.04,"y":9.69},{"s":"blue","x":0.07,"y":9.5},{"s":"blue","x":0.103,"y":9.27},{"s":"blue","x":0.13,"y":9.65},{"s":"blue","x":0.162,"y":9.3},{"s":"blue","x":0.192,"y":9.63},{"s":"blue","x":0.225,"y":9.33},{"s":"blue","x":0.257,"y":9.6},{"s":"blue","x":0.293,"y":9.39},{"s":"blue","x":0.328,"y":9.55},{"s":"blue","x":0.36,"y":9.5},{"s":"blue","x":0.794,"y":9.5},
      {"s":"redL","x":-1.6,"y":8},{"s":"redL","x":-0.4,"y":8},
      {"s":"redR","x":0.4,"y":8},{"s":"redR","x":1.36,"y":8},{"s":"redR","x":1.38,"y":8.02},{"s":"redR","x":1.4,"y":7.97},{"s":"redR","x":1.42,"y":8.03},{"s":"redR","x":1.44,"y":7.97},{"s":"redR","x":1.46,"y":8.03},{"s":"redR","x":1.48,"y":7.97},{"s":"redR","x":1.5,"y":8.03},{"s":"redR","x":1.52,"y":7.98},{"s":"redR","x":1.54,"y":8.02},{"s":"redR","x":1.57,"y":7.99},{"s":"redR","x":1.6,"y":8},
      {"s":"black","x":-1.6,"y":6.5},{"s":"black","x":-0.507,"y":6.5},{"s":"black","x":-0.497,"y":6.54},{"s":"black","x":-0.487,"y":6.42},{"s":"black","x":-0.477,"y":6.62},{"s":"black","x":-0.467,"y":6.34},{"s":"black","x":-0.457,"y":6.71},{"s":"black","x":-0.447,"y":6.24},{"s":"black","x":-0.437,"y":6.82},{"s":"black","x":-0.427,"y":6.12},{"s":"black","x":-0.417,"y":6.94},{"s":"black","x":-0.407,"y":6.02},{"s":"black","x":-0.397,"y":7.02},{"s":"black","x":-0.387,"y":6.0},{"s":"black","x":-0.377,"y":7.05},{"s":"black","x":-0.367,"y":6.02},{"s":"black","x":-0.357,"y":6.95},{"s":"black","x":-0.347,"y":6.08},{"s":"black","x":-0.337,"y":6.9},{"s":"black","x":-0.327,"y":6.12},{"s":"black","x":-0.317,"y":6.86},{"s":"black","x":-0.307,"y":6.16},{"s":"black","x":-0.297,"y":6.82},{"s":"black","x":-0.287,"y":6.19},{"s":"black","x":-0.277,"y":6.8},{"s":"black","x":-0.267,"y":6.21},{"s":"black","x":-0.257,"y":6.78},{"s":"black","x":-0.247,"y":6.24},{"s":"black","x":-0.237,"y":6.75},{"s":"black","x":-0.227,"y":6.26},{"s":"black","x":-0.217,"y":6.73},{"s":"black","x":-0.207,"y":6.29},{"s":"black","x":-0.197,"y":6.69},{"s":"black","x":-0.187,"y":6.33},{"s":"black","x":-0.177,"y":6.65},{"s":"black","x":-0.167,"y":6.37},{"s":"black","x":-0.157,"y":6.62},{"s":"black","x":-0.147,"y":6.4},{"s":"black","x":-0.137,"y":6.59},{"s":"black","x":-0.127,"y":6.43},{"s":"black","x":-0.117,"y":6.56},{"s":"black","x":-0.107,"y":6.45},{"s":"black","x":-0.097,"y":6.53},{"s":"black","x":-0.087,"y":6.48},{"s":"black","x":-0.077,"y":6.51},{"s":"black","x":-0.067,"y":6.5},{"s":"black","x":-0.04,"y":6.5},{"s":"black","x":-0.02,"y":6.52},{"s":"black","x":0.008,"y":6.5},{"s":"black","x":0.04,"y":6.69},{"s":"black","x":0.07,"y":6.5},{"s":"black","x":0.103,"y":6.27},{"s":"black","x":0.13,"y":6.65},{"s":"black","x":0.162,"y":6.3},{"s":"black","x":0.192,"y":6.63},{"s":"black","x":0.225,"y":6.33},{"s":"black","x":0.257,"y":6.6},{"s":"black","x":0.293,"y":6.39},{"s":"black","x":0.328,"y":6.55},{"s":"black","x":0.36,"y":6.5},{"s":"black","x":1.36,"y":6.5},{"s":"black","x":1.38,"y":6.52},{"s":"black","x":1.4,"y":6.47},{"s":"black","x":1.42,"y":6.53},{"s":"black","x":1.44,"y":6.47},{"s":"black","x":1.46,"y":6.53},{"s":"black","x":1.48,"y":6.47},{"s":"black","x":1.5,"y":6.52},{"s":"black","x":1.52,"y":6.48},{"s":"black","x":1.55,"y":6.51},{"s":"black","x":1.6,"y":6.5},
      {"s":"green","x":-1.6,"y":5},{"s":"green","x":-0.507,"y":5},{"s":"green","x":-0.497,"y":5.04},{"s":"green","x":-0.487,"y":4.92},{"s":"green","x":-0.477,"y":5.12},{"s":"green","x":-0.467,"y":4.84},{"s":"green","x":-0.457,"y":5.21},{"s":"green","x":-0.447,"y":4.74},{"s":"green","x":-0.437,"y":5.32},{"s":"green","x":-0.427,"y":4.62},{"s":"green","x":-0.417,"y":5.44},{"s":"green","x":-0.407,"y":4.52},{"s":"green","x":-0.397,"y":5.5},{"s":"green","x":-0.387,"y":4.48},{"s":"green","x":-0.377,"y":5.5},{"s":"green","x":-0.367,"y":4.52},{"s":"green","x":-0.357,"y":5.45},{"s":"green","x":-0.347,"y":4.58},{"s":"green","x":-0.337,"y":5.4},{"s":"green","x":-0.327,"y":4.62},{"s":"green","x":-0.317,"y":5.36},{"s":"green","x":-0.307,"y":4.66},{"s":"green","x":-0.297,"y":5.32},{"s":"green","x":-0.287,"y":4.69},{"s":"green","x":-0.277,"y":5.3},{"s":"green","x":-0.267,"y":4.71},{"s":"green","x":-0.257,"y":5.28},{"s":"green","x":-0.247,"y":4.74},{"s":"green","x":-0.237,"y":5.25},{"s":"green","x":-0.227,"y":4.76},{"s":"green","x":-0.217,"y":5.23},{"s":"green","x":-0.207,"y":4.79},{"s":"green","x":-0.197,"y":5.19},{"s":"green","x":-0.187,"y":4.83},{"s":"green","x":-0.177,"y":5.15},{"s":"green","x":-0.167,"y":4.87},{"s":"green","x":-0.157,"y":5.12},{"s":"green","x":-0.147,"y":4.9},{"s":"green","x":-0.137,"y":5.09},{"s":"green","x":-0.127,"y":4.93},{"s":"green","x":-0.117,"y":5.06},{"s":"green","x":-0.107,"y":4.95},{"s":"green","x":-0.097,"y":5.03},{"s":"green","x":-0.087,"y":4.98},{"s":"green","x":-0.077,"y":5.01},{"s":"green","x":-0.067,"y":5},{"s":"green","x":-0.04,"y":5},{"s":"green","x":-0.02,"y":5.02},{"s":"green","x":0.008,"y":5},{"s":"green","x":0.04,"y":5.19},{"s":"green","x":0.07,"y":5},{"s":"green","x":0.103,"y":4.77},{"s":"green","x":0.13,"y":5.15},{"s":"green","x":0.162,"y":4.8},{"s":"green","x":0.192,"y":5.13},{"s":"green","x":0.225,"y":4.83},{"s":"green","x":0.257,"y":5.1},{"s":"green","x":0.293,"y":4.89},{"s":"green","x":0.328,"y":5.05},{"s":"green","x":0.36,"y":5},{"s":"green","x":1.6,"y":5}
    ]
  },
  "columns": 2,
  "spacing": {"row": 83, "column": 144.5},
  "bounds": "flush",
  "concat": [
    {"title": "Time=0, Number of GB=0", "width": 392.5, "height": 309,
     "layer": [
      {"data": {"name": "potential"}, "mark": {"type": "line", "color": "#0000ff", "strokeWidth": 1},
       "encoding": {"x": {"field": "x", "type": "quantitative", "scale": {"domain": [-1.6, 1.6], "nice": false, "zero": false}, "axis": {"orient": "bottom", "values": [-1.5, -1, -0.5, 0, 0.5, 1, 1.5], "format": "~g", "title": "x"}},
                    "y": {"field": "y", "type": "quantitative", "scale": {"domain": [0, 11], "nice": false, "zero": false}, "axis": {"orient": "left", "values": [1, 2, 3, 4, 5, 6, 7, 8, 9, 10], "labels": false, "title": null}},
                    "order": {"value": null}}},
      {"data": {"name": "p1"}, "mark": {"type": "line", "strokeWidth": 1, "interpolate": "monotone"},
       "encoding": {"x": {"field": "x", "type": "quantitative", "axis": {"orient": "top", "values": [-1.5, -1, -0.5, 0, 0.5, 1, 1.5], "labels": false, "title": null}},
                    "y": {"field": "y", "type": "quantitative", "axis": {"orient": "right", "values": [1, 2, 3, 4, 5, 6, 7, 8, 9, 10], "labels": false, "title": null}},
                    "color": {"field": "s", "type": "nominal", "scale": {"domain": ["errBlue", "errRed", "errMix", "blue", "redL", "redR", "black", "green"], "range": ["#0000ff", "#ff0000", "#9c2a6c", "#0000ff", "#ff0000", "#ff0000", "#000000", "#00ff00"]}, "legend": null},
                    "order": {"value": null}}}
     ],
     "resolve": {"axis": {"x": "independent", "y": "independent"}}},
    {"title": "Time=0.23, Number of GB=0", "width": 392.5, "height": 309,
     "layer": [
      {"data": {"name": "potential"}, "mark": {"type": "line", "color": "#0000ff", "strokeWidth": 1},
       "encoding": {"x": {"field": "x", "type": "quantitative", "scale": {"domain": [-1.6, 1.6], "nice": false, "zero": false}, "axis": {"orient": "bottom", "values": [-1.5, -1, -0.5, 0, 0.5, 1, 1.5], "format": "~g", "title": "x"}},
                    "y": {"field": "y", "type": "quantitative", "scale": {"domain": [0, 11], "nice": false, "zero": false}, "axis": {"orient": "left", "values": [1, 2, 3, 4, 5, 6, 7, 8, 9, 10], "labels": false, "title": null}},
                    "order": {"value": null}}},
      {"data": {"name": "p2"}, "mark": {"type": "line", "strokeWidth": 1, "interpolate": "monotone"},
       "encoding": {"x": {"field": "x", "type": "quantitative", "axis": {"orient": "top", "values": [-1.5, -1, -0.5, 0, 0.5, 1, 1.5], "labels": false, "title": null}},
                    "y": {"field": "y", "type": "quantitative", "axis": {"orient": "right", "values": [1, 2, 3, 4, 5, 6, 7, 8, 9, 10], "labels": false, "title": null}},
                    "color": {"field": "s", "type": "nominal", "scale": {"domain": ["errBlue", "errRed", "errMix", "blue", "redL", "redR", "black", "green"], "range": ["#0000ff", "#ff0000", "#9c2a6c", "#0000ff", "#ff0000", "#ff0000", "#000000", "#00ff00"]}, "legend": null},
                    "order": {"value": null}}}
     ],
     "resolve": {"axis": {"x": "independent", "y": "independent"}}},
    {"title": "Time=0.67, Number of GB=19", "width": 392.5, "height": 309,
     "layer": [
      {"data": {"name": "potential"}, "mark": {"type": "line", "color": "#0000ff", "strokeWidth": 1},
       "encoding": {"x": {"field": "x", "type": "quantitative", "scale": {"domain": [-1.6, 1.6], "nice": false, "zero": false}, "axis": {"orient": "bottom", "values": [-1.5, -1, -0.5, 0, 0.5, 1, 1.5], "format": "~g", "title": "x"}},
                    "y": {"field": "y", "type": "quantitative", "scale": {"domain": [0, 11], "nice": false, "zero": false}, "axis": {"orient": "left", "values": [1, 2, 3, 4, 5, 6, 7, 8, 9, 10], "labels": false, "title": null}},
                    "order": {"value": null}}},
      {"data": {"name": "p3"}, "mark": {"type": "line", "strokeWidth": 1, "interpolate": "monotone"},
       "encoding": {"x": {"field": "x", "type": "quantitative", "axis": {"orient": "top", "values": [-1.5, -1, -0.5, 0, 0.5, 1, 1.5], "labels": false, "title": null}},
                    "y": {"field": "y", "type": "quantitative", "axis": {"orient": "right", "values": [1, 2, 3, 4, 5, 6, 7, 8, 9, 10], "labels": false, "title": null}},
                    "color": {"field": "s", "type": "nominal", "scale": {"domain": ["errBlue", "errRed", "errMix", "blue", "redL", "redR", "black", "green"], "range": ["#0000ff", "#ff0000", "#9c2a6c", "#0000ff", "#ff0000", "#ff0000", "#000000", "#00ff00"]}, "legend": null},
                    "order": {"value": null}}}
     ],
     "resolve": {"axis": {"x": "independent", "y": "independent"}}},
    {"title": "Time=1.03, Number of GB=26", "width": 392.5, "height": 309,
     "layer": [
      {"data": {"name": "potential"}, "mark": {"type": "line", "color": "#0000ff", "strokeWidth": 1},
       "encoding": {"x": {"field": "x", "type": "quantitative", "scale": {"domain": [-1.6, 1.6], "nice": false, "zero": false}, "axis": {"orient": "bottom", "values": [-1.5, -1, -0.5, 0, 0.5, 1, 1.5], "format": "~g", "title": "x"}},
                    "y": {"field": "y", "type": "quantitative", "scale": {"domain": [0, 11], "nice": false, "zero": false}, "axis": {"orient": "left", "values": [1, 2, 3, 4, 5, 6, 7, 8, 9, 10], "labels": false, "title": null}},
                    "order": {"value": null}}},
      {"data": {"name": "p4"}, "mark": {"type": "line", "strokeWidth": 1, "interpolate": "monotone"},
       "encoding": {"x": {"field": "x", "type": "quantitative", "axis": {"orient": "top", "values": [-1.5, -1, -0.5, 0, 0.5, 1, 1.5], "labels": false, "title": null}},
                    "y": {"field": "y", "type": "quantitative", "axis": {"orient": "right", "values": [1, 2, 3, 4, 5, 6, 7, 8, 9, 10], "labels": false, "title": null}},
                    "color": {"field": "s", "type": "nominal", "scale": {"domain": ["errBlue", "errRed", "errMix", "blue", "redL", "redR", "black", "green"], "range": ["#0000ff", "#ff0000", "#9c2a6c", "#0000ff", "#ff0000", "#ff0000", "#000000", "#00ff00"]}, "legend": null},
                    "order": {"value": null}}}
     ],
     "resolve": {"axis": {"x": "independent", "y": "independent"}}},
    {"title": "Time=2.04, Number of GB=19", "width": 392.5, "height": 309,
     "layer": [
      {"data": {"name": "potential"}, "mark": {"type": "line", "color": "#0000ff", "strokeWidth": 1},
       "encoding": {"x": {"field": "x", "type": "quantitative", "scale": {"domain": [-1.6, 1.6], "nice": false, "zero": false}, "axis": {"orient": "bottom", "values": [-1.5, -1, -0.5, 0, 0.5, 1, 1.5], "format": "~g", "title": "x"}},
                    "y": {"field": "y", "type": "quantitative", "scale": {"domain": [0, 11], "nice": false, "zero": false}, "axis": {"orient": "left", "values": [1, 2, 3, 4, 5, 6, 7, 8, 9, 10], "labels": false, "title": null}},
                    "order": {"value": null}}},
      {"data": {"name": "p5"}, "mark": {"type": "line", "strokeWidth": 1, "interpolate": "monotone"},
       "encoding": {"x": {"field": "x", "type": "quantitative", "axis": {"orient": "top", "values": [-1.5, -1, -0.5, 0, 0.5, 1, 1.5], "labels": false, "title": null}},
                    "y": {"field": "y", "type": "quantitative", "axis": {"orient": "right", "values": [1, 2, 3, 4, 5, 6, 7, 8, 9, 10], "labels": false, "title": null}},
                    "color": {"field": "s", "type": "nominal", "scale": {"domain": ["errBlue", "errRed", "errMix", "blue", "redL", "redR", "black", "green"], "range": ["#0000ff", "#ff0000", "#9c2a6c", "#0000ff", "#ff0000", "#ff0000", "#000000", "#00ff00"]}, "legend": null},
                    "order": {"value": null}}}
     ],
     "resolve": {"axis": {"x": "independent", "y": "independent"}}},
    {"title": "Time=2.55, Number of GB=3", "width": 392.5, "height": 309,
     "layer": [
      {"data": {"name": "potential"}, "mark": {"type": "line", "color": "#0000ff", "strokeWidth": 1},
       "encoding": {"x": {"field": "x", "type": "quantitative", "scale": {"domain": [-1.6, 1.6], "nice": false, "zero": false}, "axis": {"orient": "bottom", "values": [-1.5, -1, -0.5, 0, 0.5, 1, 1.5], "format": "~g", "title": "x"}},
                    "y": {"field": "y", "type": "quantitative", "scale": {"domain": [0, 11], "nice": false, "zero": false}, "axis": {"orient": "left", "values": [1, 2, 3, 4, 5, 6, 7, 8, 9, 10], "labels": false, "title": null}},
                    "order": {"value": null}}},
      {"data": {"name": "p6"}, "mark": {"type": "line", "strokeWidth": 1, "interpolate": "monotone"},
       "encoding": {"x": {"field": "x", "type": "quantitative", "axis": {"orient": "top", "values": [-1.5, -1, -0.5, 0, 0.5, 1, 1.5], "labels": false, "title": null}},
                    "y": {"field": "y", "type": "quantitative", "axis": {"orient": "right", "values": [1, 2, 3, 4, 5, 6, 7, 8, 9, 10], "labels": false, "title": null}},
                    "color": {"field": "s", "type": "nominal", "scale": {"domain": ["errBlue", "errRed", "errMix", "blue", "redL", "redR", "black", "green"], "range": ["#0000ff", "#ff0000", "#9c2a6c", "#0000ff", "#ff0000", "#ff0000", "#000000", "#00ff00"]}, "legend": null},
                    "order": {"value": null}}}
     ],
     "resolve": {"axis": {"x": "independent", "y": "independent"}}}
  ]
}
